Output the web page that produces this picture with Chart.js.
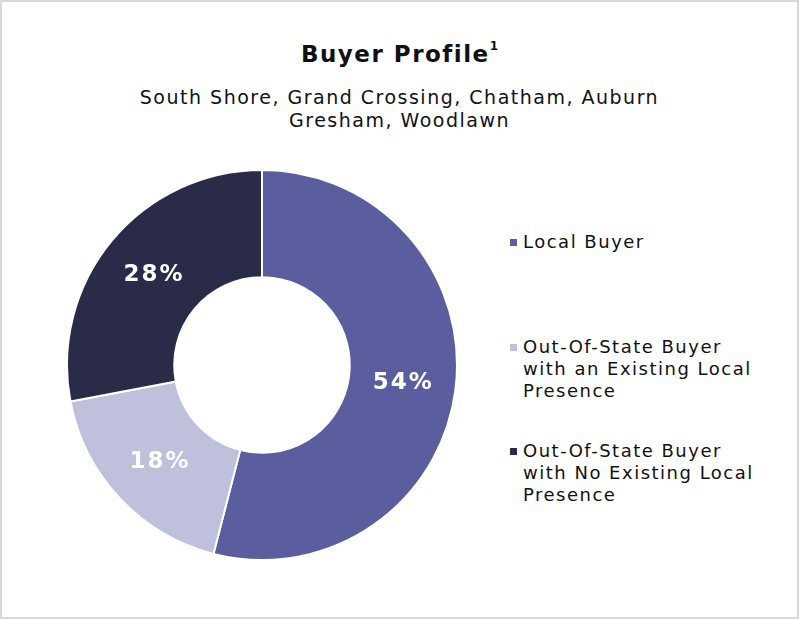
<!DOCTYPE html>
<html>
<head>
<meta charset="utf-8">
<script src="https://cdn.jsdelivr.net/npm/chart.js@4.4.1/dist/chart.umd.min.js"></script>
<style>
  html, body { margin: 0; padding: 0; background: #fff; }
  body { width: 799px; height: 619px; position: relative; overflow: hidden; font-family: "DejaVu Sans", sans-serif; color: #111; }
  .frame { position: absolute; left: 0; top: 0; width: 795px; height: 615px; border: 2px solid #d9d9d9; }
  .title { position: absolute; left: 0; width: 799px; top: 41px; text-align: center; font-size: 23px; font-weight: 700; letter-spacing: 1.5px; }
  .title sup { font-size: 12px; position: relative; top: -3px; letter-spacing: 0; }
  .subtitle { position: absolute; left: 0; width: 799px; top: 86px; text-align: center; font-size: 19px; line-height: 23px; letter-spacing: 1.5px; }
  .chart-wrap { position: absolute; left: 62px; top: 165px; width: 400px; height: 400px; }
  .legend { position: absolute; left: 509px; top: 0; width: 290px; font-size: 18px; line-height: 22px; letter-spacing: 1.5px; }
  .legend-item { position: absolute; left: 0; padding-left: 14px; white-space: nowrap; }
  .legend-item .dot { position: absolute; left: 1px; top: 8px; width: 7px; height: 7px; }
</style>
</head>
<body>
<div class="frame"></div>
<div class="title">Buyer Profile<sup>1</sup></div>
<div class="subtitle">South Shore, Grand Crossing, Chatham, Auburn<br>Gresham, Woodlawn</div>
<div class="chart-wrap"><canvas id="chartDonut"></canvas></div>
<div class="legend" id="legend"></div>
<script>
// Buyer profile data
const categories = [
  'Local Buyer',
  'Out-Of-State Buyer with an Existing Local Presence',
  'Out-Of-State Buyer with No Existing Local Presence'
];
const legendLines = [
  ['Local Buyer'],
  ['Out-Of-State Buyer', 'with an Existing Local', 'Presence'],
  ['Out-Of-State Buyer', 'with No Existing Local', 'Presence']
];
const shares = [54, 18, 28];
const colors = ['#5a5e9f', '#bfc1dc', '#2a2b49'];
const legendTops = [231, 336, 440];

// Percent labels drawn inside each slice
const sliceLabels = {
  id: 'sliceLabels',
  afterDatasetsDraw(chart) {
    const ctx = chart.ctx;
    const meta = chart.getDatasetMeta(0);
    ctx.save();
    ctx.fillStyle = '#ffffff';
    ctx.font = '700 23px "DejaVu Sans", sans-serif';
    ctx.letterSpacing = '2px';
    ctx.textAlign = 'center';
    ctx.textBaseline = 'middle';
    meta.data.forEach((arc, i) => {
      const p = arc.getProps(['x', 'y', 'startAngle', 'endAngle', 'innerRadius', 'outerRadius'], true);
      const mid = (p.startAngle + p.endAngle) / 2;
      const r = p.innerRadius + (p.outerRadius - p.innerRadius) * 0.5;
      ctx.fillText(shares[i] + '%', p.x + Math.cos(mid) * r + 1, p.y + Math.sin(mid) * r);
    });
    ctx.restore();
  }
};

new Chart(document.getElementById('chartDonut'), {
  type: 'doughnut',
  data: {
    labels: categories,
    datasets: [{
      data: shares,
      backgroundColor: colors,
      borderColor: '#ffffff',
      borderWidth: 2
    }]
  },
  options: {
    responsive: true,
    maintainAspectRatio: false,
    animation: false,
    cutout: '45%',
    layout: { padding: 4 },
    plugins: {
      legend: { display: false },
      tooltip: { enabled: false }
    }
  },
  plugins: [sliceLabels]
});

// HTML legend, right side
document.getElementById('legend').innerHTML = legendLines.map((lines, i) => `
  <div class="legend-item" style="top:${legendTops[i]}px">
    <span class="dot" style="background:${colors[i]}"></span>${lines.join('<br>')}
  </div>`).join('');
</script>
</body>
</html>
